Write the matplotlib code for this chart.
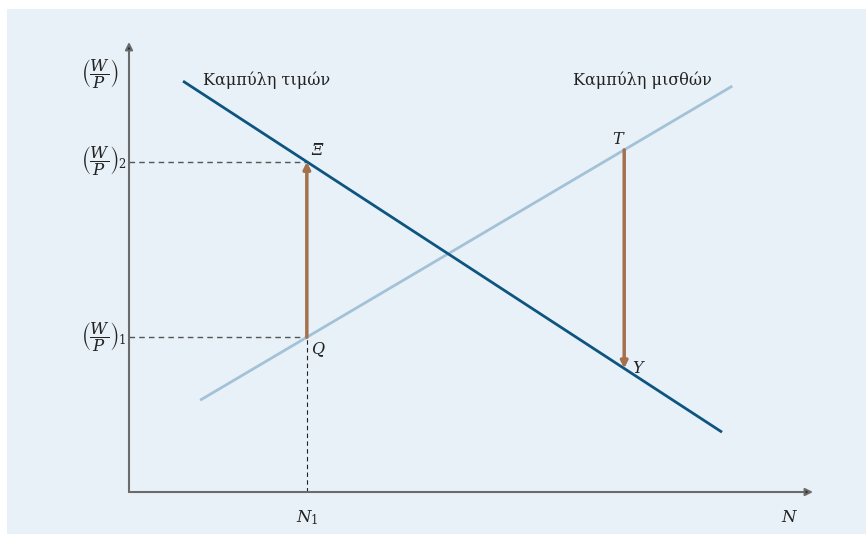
import matplotlib.pyplot as plt
from matplotlib.patches import Rectangle

# curves given by their two end points (N, W/P)
price_n = [0.79, 8.67]
price_wp = [9.13, 1.33]
wage_n = [1.04, 8.82]
wage_wp = [2.04, 9.02]

n1 = 2.60      # employment where wage is lower
n2 = 7.24      # employment where wage is higher

price_label = "Καμπύλη τιμών"
wage_label = "Καμπύλη μισθών"

dark_blue = "#0d5580"
light_blue = "#a3c2d8"
brown = "#a5704c"
axis_grey = "#6b6b6b"


def on_line(xs, ys, x):
    return ys[0] + (ys[1] - ys[0]) * (x - xs[0]) / (xs[1] - xs[0])


plt.rcParams["font.family"] = ["DejaVu Serif"]
plt.rcParams["mathtext.fontset"] = "dejavuserif"

fig = plt.figure(figsize=(8.66, 5.34), dpi=100)
fig.patch.set_facecolor("white")
ax = fig.add_axes([0, 0, 1, 1])
ax.set_xlim(-1.886, 10.775)
ax.set_ylim(-0.933, 10.933)
ax.axis("off")

ax.add_patch(Rectangle((7 / 866, 0), 1, 1 - 9 / 534, transform=ax.transAxes,
                       facecolor="#e8f1f7", edgecolor="none", zorder=0))

# axes with arrow heads
for tip in [(0, 10), (10, 0)]:
    ax.annotate("", xy=tip, xytext=(0, 0),
                arrowprops=dict(arrowstyle="-|>", color=axis_grey, lw=1.5,
                                mutation_scale=11, shrinkA=0, shrinkB=0,
                                fc="#222222", ec=axis_grey))

ax.plot(wage_n, wage_wp, color=light_blue, lw=2, solid_capstyle="butt", zorder=2)
ax.plot(price_n, price_wp, color=dark_blue, lw=2, solid_capstyle="butt", zorder=3)

y_xi = on_line(price_n, price_wp, n1)
y_q = on_line(wage_n, wage_wp, n1)
y_t = on_line(wage_n, wage_wp, n2)
y_u = on_line(price_n, price_wp, n2)

ax.plot([0, n1], [y_xi, y_xi], color="#555555", lw=1, ls=(0, (4, 3)), zorder=1)
ax.plot([0, n1], [y_q, y_q], color="#555555", lw=1, ls=(0, (4, 3)), zorder=1)
ax.plot([n1, n1], [0, y_q], color="#222222", lw=0.8, ls=(0, (4, 3)), zorder=1)

for x, y0, y1 in [(n1, y_q, y_xi), (n2, y_t, y_u)]:
    ax.annotate("", xy=(x, y1), xytext=(x, y0),
                arrowprops=dict(arrowstyle="-|>", color=brown, lw=2.5,
                                mutation_scale=10, shrinkA=0, shrinkB=0),
                zorder=4)

txt = dict(color="#222222", fontsize=11.5)
ax.text(1.08, 9.16, price_label, ha="left", va="center", **txt)
ax.text(6.49, 9.16, wage_label, ha="left", va="center", **txt)

ylab = dict(color="#222222", fontsize=12, ha="left", va="center")
ax.text(-0.70, 9.27, r"$\left(\dfrac{W}{P}\right)$", **ylab)
ax.text(-0.70, y_xi, r"$\left(\dfrac{W}{P}\right)_{2}$", **ylab)
ax.text(-0.70, y_q, r"$\left(\dfrac{W}{P}\right)_{1}$", **ylab)

pt = dict(color="#222222", fontsize=11.5, style="italic", va="center")
ax.text(n1 + 0.06, y_xi + 0.25, "Ξ", ha="left", **pt)
ax.text(n1 + 0.06, y_q - 0.25, "Q", ha="left", **pt)
ax.text(n2 - 0.02, y_t + 0.22, "T", ha="right", **pt)
ax.text(n2 + 0.12, y_u + 0.0, "Υ", ha="left", **pt)

ax.text(n1, -0.56, r"$N_{\mathit{1}}$", ha="center", va="center", color="#222222", fontsize=12)
ax.text(9.66, -0.56, r"$N$", ha="center", va="center", color="#222222", fontsize=12)

fig.savefig("out.png", dpi=100, facecolor=fig.get_facecolor())
